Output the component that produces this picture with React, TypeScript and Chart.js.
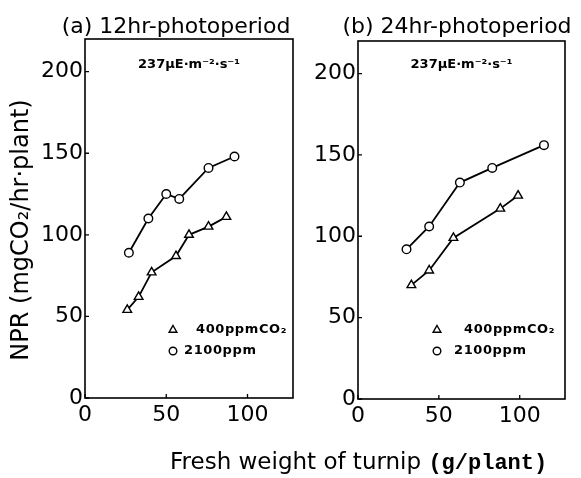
import React, { useEffect, useRef } from "react";
import { Chart, registerables } from "chart.js";

Chart.register(...registerables);

// ---- Data ----
const xTickValues = [0, 50, 100];
const yTickValues = [0, 50, 100, 150, 200];

const panelATitle = "(a) 12hr-photoperiod";
const panelBTitle = "(b) 24hr-photoperiod";
const irradianceLabel = "237μE·m⁻²·s⁻¹";
const legendLowLabel = "400ppmCO₂";
const legendHighLabel = "2100ppm";
const yAxisTitle = "NPR (mgCO₂/hr·plant)";
const xAxisTitleMain = "Fresh weight of turnip ";
const xAxisTitleUnit = "(g/plant)";

// Panel (a) 12hr photoperiod
const a400X = [26, 33, 41, 56, 64, 76, 87];
const a400Y = [54, 62, 77, 87, 100, 105, 111];
const a2100X = [27, 39, 50, 58, 76, 92];
const a2100Y = [89, 110, 125, 122, 141, 148];

// Panel (b) 24hr photoperiod
const b400X = [33, 44, 59, 88, 99];
const b400Y = [70, 79, 99, 117, 125];
const b2100X = [30, 44, 63, 83, 115];
const b2100Y = [92, 106, 133, 142, 156];

const X_MAX = 128;
const Y_MAX = 220;

type PanelSpec = {
  lowX: number[];
  lowY: number[];
  highX: number[];
  highY: number[];
  title: string;
  titleX: number;
  padding: { left: number; right: number; top: number; bottom: number };
  yWidth: number;
  legendMarkerX: number;
  legendLowTextX: number;
  legendHighTextX: number;
  drawYTitle: boolean;
};

const toPoints = (xs: number[], ys: number[]) => xs.map((x, i) => ({ x, y: ys[i] }));

function drawTriangle(ctx: CanvasRenderingContext2D, x: number, y: number, r: number) {
  ctx.beginPath();
  for (let i = 0; i < 3; i++) {
    const a = (i * 2 * Math.PI) / 3;
    const px = x + Math.sin(a) * r;
    const py = y - Math.cos(a) * r;
    if (i === 0) ctx.moveTo(px, py);
    else ctx.lineTo(px, py);
  }
  ctx.closePath();
  ctx.fillStyle = "#fff";
  ctx.fill();
  ctx.stroke();
}

function drawCircle(ctx: CanvasRenderingContext2D, x: number, y: number, r: number) {
  ctx.beginPath();
  ctx.arc(x, y, r, 0, Math.PI * 2);
  ctx.fillStyle = "#fff";
  ctx.fill();
  ctx.stroke();
}

function makeOverlay(p: PanelSpec) {
  return {
    id: "overlay",
    afterDraw(chart: any) {
      const { ctx, chartArea: ca, scales } = chart;
      ctx.save();
      ctx.strokeStyle = "#000";
      ctx.lineWidth = 1.6;
      ctx.strokeRect(ca.left, ca.top, ca.right - ca.left, ca.bottom - ca.top);
      // inward tick marks
      ctx.lineWidth = 1.3;
      ctx.beginPath();
      for (const v of yTickValues) {
        const py = scales.y.getPixelForValue(v);
        ctx.moveTo(ca.left, py);
        ctx.lineTo(ca.left + 4, py);
      }
      for (const v of xTickValues) {
        const px = scales.x.getPixelForValue(v);
        ctx.moveTo(px, ca.bottom);
        ctx.lineTo(px, ca.bottom - 4);
      }
      ctx.stroke();

      ctx.fillStyle = "#000";
      // panel title
      ctx.font = '22px "DejaVu Sans"';
      ctx.textAlign = "center";
      ctx.textBaseline = "alphabetic";
      ctx.fillText(p.title, p.titleX, 33);

      // irradiance
      ctx.font = 'bold 13px "DejaVu Sans"';
      ctx.fillText(irradianceLabel, (ca.left + ca.right) / 2, 68);

      // legend
      ctx.lineWidth = 1.4;
      ctx.strokeStyle = "#000";
      drawTriangle(ctx, p.legendMarkerX, 330, 4.5);
      drawCircle(ctx, p.legendMarkerX, 351, 3.8);
      ctx.fillStyle = "#000";
      ctx.font = 'bold 13px "DejaVu Sans"';
      ctx.textAlign = "left";
      ctx.textBaseline = "middle";
      (ctx as any).letterSpacing = "0.6px";
      ctx.fillText(legendLowLabel, p.legendLowTextX, 330);
      ctx.fillText(legendHighLabel, p.legendHighTextX, 351);
      (ctx as any).letterSpacing = "0px";

      // y-axis title
      if (p.drawYTitle) {
        ctx.save();
        ctx.translate(22, 230);
        ctx.rotate(-Math.PI / 2);
        ctx.font = '24px "DejaVu Sans"';
        ctx.textAlign = "center";
        ctx.textBaseline = "middle";
        ctx.fillText(yAxisTitle, 0, 0);
        ctx.restore();
      }
      ctx.restore();
    },
  };
}

function makeConfig(p: PanelSpec): any {
  const tickFont = { family: "DejaVu Sans", size: 22 };
  return {
    type: "scatter",
    data: {
      datasets: [
        {
          label: legendLowLabel,
          data: toPoints(p.lowX, p.lowY),
          showLine: true,
          borderColor: "#000",
          borderWidth: 1.8,
          pointStyle: "triangle",
          pointRadius: 5,
          pointBorderWidth: 1.4,
          pointBackgroundColor: "#fff",
          pointBorderColor: "#000",
        },
        {
          label: legendHighLabel,
          data: toPoints(p.highX, p.highY),
          showLine: true,
          borderColor: "#000",
          borderWidth: 1.8,
          pointStyle: "circle",
          pointRadius: 4.3,
          pointBorderWidth: 1.4,
          pointBackgroundColor: "#fff",
          pointBorderColor: "#000",
        },
      ],
    },
    options: {
      responsive: false,
      animation: false,
      devicePixelRatio: 1,
      layout: { padding: p.padding },
      plugins: { legend: { display: false }, title: { display: false }, tooltip: { enabled: false } },
      scales: {
        x: {
          type: "linear",
          min: 0,
          max: X_MAX,
          grid: { display: false, drawTicks: false },
          border: { display: false },
          afterBuildTicks: (s: any) => {
            s.ticks = xTickValues.map((v) => ({ value: v }));
          },
          afterFit: (s: any) => {
            s.height = 40;
          },
          ticks: { font: tickFont, color: "#000", padding: 4, maxRotation: 0, autoSkip: false },
        },
        y: {
          type: "linear",
          min: 0,
          max: Y_MAX,
          grid: { display: false, drawTicks: false },
          border: { display: false },
          afterBuildTicks: (s: any) => {
            s.ticks = yTickValues.map((v) => ({ value: v }));
          },
          afterFit: (s: any) => {
            s.width = p.yWidth;
          },
          ticks: { font: tickFont, color: "#000", padding: 2, autoSkip: false },
        },
      },
    },
    plugins: [makeOverlay(p)],
  };
}

const panelA: PanelSpec = {
  lowX: a400X,
  lowY: a400Y,
  highX: a2100X,
  highY: a2100Y,
  title: panelATitle,
  titleX: 176,
  padding: { left: 20, right: 7, top: 39, bottom: 40 },
  yWidth: 65,
  legendMarkerX: 173,
  legendLowTextX: 196,
  legendHighTextX: 184,
  drawYTitle: true,
};

const panelB: PanelSpec = {
  lowX: b400X,
  lowY: b400Y,
  highX: b2100X,
  highY: b2100Y,
  title: panelBTitle,
  titleX: 157,
  padding: { left: 0, right: 16, top: 41, bottom: 39 },
  yWidth: 58,
  legendMarkerX: 137,
  legendLowTextX: 164,
  legendHighTextX: 154,
  drawYTitle: false,
};

function Panel({ spec, left, width }: { spec: PanelSpec; left: number; width: number }) {
  const ref = useRef<HTMLCanvasElement | null>(null);
  useEffect(() => {
    if (!ref.current) return;
    const chart = new Chart(ref.current, makeConfig(spec));
    return () => chart.destroy();
  }, [spec]);
  return (
    <canvas
      ref={ref}
      width={width}
      height={478}
      style={{ position: "absolute", left, top: 0, width, height: 478 }}
    />
  );
}

export default function App() {
  useEffect(() => {
    document.body.style.margin = "0";
    document.body.style.background = "#fff";
  }, []);
  return (
    <div style={{ position: "relative", width: 581, height: 478, background: "#fff", overflow: "hidden" }}>
      <Panel spec={panelA} left={0} width={300} />
      <Panel spec={panelB} left={300} width={281} />
      <div
        style={{
          position: "absolute",
          left: 170,
          top: 450,
          whiteSpace: "nowrap",
          lineHeight: "23px",
          color: "#000",
        }}
      >
        <span style={{ fontFamily: '"DejaVu Sans"', fontSize: 23 }}>{xAxisTitleMain}</span>
        <span style={{ fontFamily: '"Liberation Mono"', fontWeight: "bold", fontSize: 22 }}>{xAxisTitleUnit}</span>
      </div>
    </div>
  );
}
